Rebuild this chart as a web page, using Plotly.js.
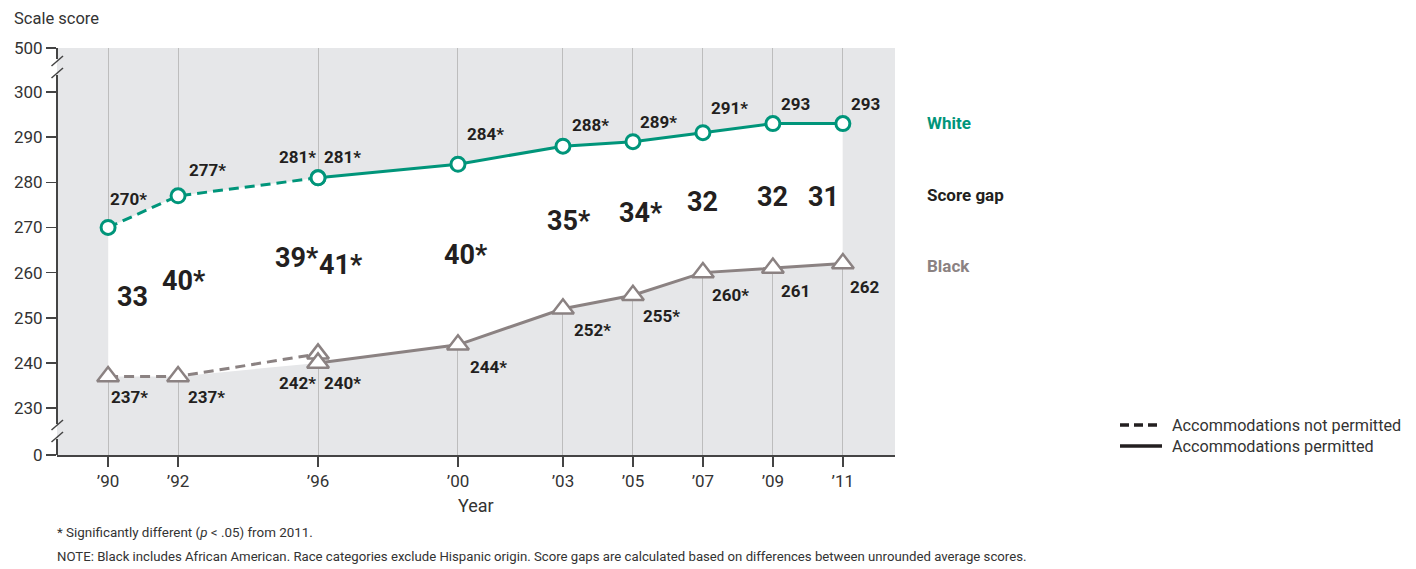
<!DOCTYPE html>
<html><head><meta charset="utf-8">
<script src="https://cdn.plot.ly/plotly-3.0.1.min.js"></script>
<style>html,body{margin:0;padding:0;background:#fff}#chart{width:1416px;height:569px}</style>
</head><body><div id="chart"></div>
<script>
// ---------- DATA ----------
const yearsNotPermitted = [1990, 1992, 1996];
const yearsPermitted = [1996, 2000, 2003, 2005, 2007, 2009, 2011];
const whiteNotPermitted = [270, 277, 281];
const whitePermitted = [281, 284, 288, 289, 291, 293, 293];
const blackNotPermitted = [237, 237, 242];
const blackPermitted = [240, 244, 252, 255, 260, 261, 262];
const whiteSigNP = [true, true, true];
const whiteSigP = [true, true, true, true, true, false, false];
const blackSigNP = [true, true, true];
const blackSigP = [true, true, true, true, true, false, false];
const gapNotPermitted = [33, 40, 39];
const gapSigNP = [false, true, true];
const gapPermitted = [41, 40, 35, 34, 32, 32, 31];
const gapSigP = [true, true, true, true, false, false, false];
const tickYears = [1990, 1992, 1996, 2000, 2003, 2005, 2007, 2009, 2011];
const tickYearLabels = ['\u201990', '\u201992', '\u201996', '\u201900', '\u201903', '\u201905', '\u201907', '\u201909', '\u201911'];
const yTickLabels = ['0', '230', '240', '250', '260', '270', '280', '290', '300', '500'];
const seriesNames = ['White', 'Score gap', 'Black'];
const legendLabels = ['Accommodations not permitted', 'Accommodations permitted'];

// ---------- STYLE ----------
const FONT = "Roboto, 'Liberation Sans', sans-serif";
const TEAL = '#00957a', GRAY = '#8b8282', INK = '#231f20';
// broken axis: scale values 0 and 500 are drawn just outside the 230-300 band
const brokenPos = {'0': 219.6, '500': 309.75};
const yTickVals = yTickLabels.map(t => brokenPos[t] !== undefined ? brokenPos[t] : Number(t));
const Y_RANGE = [219.6, 309.75];
const X_RANGE = [1988.54, 2012.49];

// label offsets (px): [dx, dy] with dy positive downward
const whiteOffNP = [[20,-28],[29,-26],[-21,-21]];
const whiteOffP = [[24,-21],[28,-30],[28,-21],[26,-20],[27,-25],[23,-20],[23,-20]];
const blackOffNP = [[21,21],[28,21],[-21,29]];
const blackOffP = [[24,20],[31,22],[30,21],[29,21],[28,22],[23,23],[22,23]];
const gapOffNP = [[24,-5],[6,-5],[-21,-8]];
const gapOffP = [[23,-5],[8,0],[6,-6],[8,-5],[0,-1],[0,1],[-19,3]];

// ---------- TRACES ----------
const traces = [];
const bandX = yearsNotPermitted.concat(yearsPermitted.slice(1))
  .concat(yearsPermitted.slice().reverse()).concat(yearsNotPermitted.slice(0, -1).reverse());
const bandY = whiteNotPermitted.concat(whitePermitted.slice(1))
  .concat(blackPermitted.slice().reverse()).concat(blackNotPermitted.slice(0, -1).reverse());
traces.push({x: bandX, y: bandY, type: 'scatter', mode: 'lines', fill: 'toself',
  fillcolor: '#ffffff', line: {width: 0}, hoverinfo: 'skip', showlegend: false});

function series(x, y, color, dash, symbol, size, lw) {
  return {x, y, type: 'scatter', mode: 'lines+markers', showlegend: false,
    line: {color, width: 3, dash},
    marker: {symbol, size, color: '#ffffff', line: {color, width: lw}}};
}
traces.push(series(yearsNotPermitted, blackNotPermitted, GRAY, '10px,6px', 'triangle-up', 19, 2.5));
traces.push(series(yearsPermitted, blackPermitted, GRAY, 'solid', 'triangle-up', 19, 2.5));
traces.push(series(yearsNotPermitted, whiteNotPermitted, TEAL, '10px,6px', 'circle', 14, 3));
traces.push(series(yearsPermitted, whitePermitted, TEAL, 'solid', 'circle', 14, 3));

// ---------- ANNOTATIONS ----------
const ann = [];
function labels(xs, ys, sig, off, size) {
  xs.forEach((x, i) => ann.push({x, y: ys[i], xref: 'x', yref: 'y', showarrow: false,
    text: ys[i] + (sig[i] ? '*' : ''), xshift: off[i][0], yshift: -off[i][1],
    xanchor: 'center', yanchor: 'middle',
    font: {family: FONT, size, color: INK, weight: 'bold'}}));
}
labels(yearsNotPermitted, whiteNotPermitted, whiteSigNP, whiteOffNP, 17);
labels(yearsPermitted, whitePermitted, whiteSigP, whiteOffP, 17);
labels(yearsNotPermitted, blackNotPermitted, blackSigNP, blackOffNP, 17);
labels(yearsPermitted, blackPermitted, blackSigP, blackOffP, 17);
function gaps(xs, top, bot, g, sig, off) {
  xs.forEach((x, i) => ann.push({x, y: (top[i] + bot[i]) / 2, xref: 'x', yref: 'y', showarrow: false,
    text: g[i] + (sig[i] ? '*' : ''), xshift: off[i][0], yshift: -off[i][1],
    xanchor: 'center', yanchor: 'middle',
    font: {family: FONT, size: 27, color: INK, weight: 'bold'}}));
}
gaps(yearsNotPermitted, whiteNotPermitted, blackNotPermitted, gapNotPermitted, gapSigNP, gapOffNP);
gaps(yearsPermitted, whitePermitted, blackPermitted, gapPermitted, gapSigP, gapOffP);

// series names on the right, aligned to 2011 values
const lastW = whitePermitted[whitePermitted.length - 1];
const lastB = blackPermitted[blackPermitted.length - 1];
const nameY = [lastW, (lastW + lastB) / 2, lastB];
const nameColors = [TEAL, INK, GRAY];
const nameShift = [1, -1, -2];
seriesNames.forEach((n, i) => ann.push({xref: 'paper', yref: 'y', x: 1.0358, y: nameY[i],
  xanchor: 'left', yanchor: 'middle', showarrow: false, yshift: nameShift[i], text: n,
  font: {family: FONT, size: 17, color: nameColors[i], weight: 'bold'}}));

// legend text
const legY = [0.0737, 0.0221];
legendLabels.forEach((t, i) => ann.push({xref: 'paper', yref: 'paper', x: 1.3277, y: legY[i],
  xanchor: 'left', yanchor: 'middle', showarrow: false, text: t,
  font: {family: FONT, size: 16.2, color: '#333333'}}));

// titles and notes
ann.push({xref: 'paper', yref: 'paper', x: -0.0537, y: 1.0713, xanchor: 'left', yanchor: 'middle',
  showarrow: false, text: 'Scale score', font: {family: FONT, size: 16.5, color: '#333333'}});
ann.push({xref: 'paper', yref: 'paper', x: 0.5, y: -0.1229, xanchor: 'center', yanchor: 'middle',
  showarrow: false, text: 'Year', font: {family: FONT, size: 18, color: '#333333'}});
ann.push({xref: 'paper', yref: 'paper', x: -0.0024, y: -0.1916, xanchor: 'left', yanchor: 'middle',
  showarrow: false, text: '* Significantly different (<i>p</i> < .05) from 2011.',
  font: {family: FONT, size: 13.4, color: '#333333'}});
ann.push({xref: 'paper', yref: 'paper', x: -0.0024, y: -0.2506, xanchor: 'left', yanchor: 'middle',
  showarrow: false,
  text: 'NOTE: Black includes African American. Race categories exclude Hispanic origin. Score gaps are calculated based on differences between unrounded average scores.',
  font: {family: FONT, size: 13.2, color: '#333333'}});

// ---------- SHAPES ----------
const shapes = [];
const AX = '#444444';
function pyToPaper(py) { return (455 - py) / 407; }
function vline(pa, pb) {
  shapes.push({type: 'line', xref: 'paper', yref: 'paper', x0: 0, x1: 0,
    y0: pyToPaper(pa), y1: pyToPaper(pb), line: {color: AX, width: 2}});
}
vline(48, 59);
vline(75, 424);
vline(439, 455);
function slash(pyCenter) {
  [-6, 6].forEach(o => {
    const c = pyCenter + o;
    shapes.push({type: 'line', xref: 'paper', yref: 'paper',
      x0: -5.5 / 838, x1: 6 / 838, y0: pyToPaper(c + 5), y1: pyToPaper(c - 5),
      line: {color: AX, width: 1.5}});
  });
}
slash(67);
slash(431);
// legend samples
shapes.push({type: 'line', xref: 'paper', yref: 'paper', x0: (1120 - 57) / 838, x1: (1162 - 57) / 838,
  y0: pyToPaper(425), y1: pyToPaper(425), line: {color: INK, width: 3.5, dash: '9px,5px'}});
shapes.push({type: 'line', xref: 'paper', yref: 'paper', x0: (1120 - 57) / 838, x1: (1162 - 57) / 838,
  y0: pyToPaper(446), y1: pyToPaper(446), line: {color: INK, width: 3.5}});

const layout = {
  width: 1416, height: 569,
  margin: {l: 57, r: 521, t: 48, b: 114, pad: 0},
  paper_bgcolor: '#ffffff', plot_bgcolor: '#e6e7e9',
  showlegend: false,
  font: {family: FONT, color: '#333333'},
  xaxis: {range: X_RANGE, tickvals: tickYears, ticktext: tickYearLabels, showgrid: true,
    gridcolor: '#bdbdbd', gridwidth: 1, zeroline: false, showline: true, linecolor: AX, linewidth: 2,
    ticks: 'outside', ticklen: 10, tickcolor: AX, tickwidth: 1.5,
    tickfont: {family: FONT, size: 17, color: '#333333'}, fixedrange: true},
  yaxis: {range: Y_RANGE, tickvals: yTickVals, ticktext: yTickLabels, showgrid: false,
    zeroline: false, showline: false, ticks: 'outside', ticklen: 10, tickcolor: AX, tickwidth: 1.5,
    tickfont: {family: FONT, size: 17, color: '#333333'}, fixedrange: true},
  annotations: ann, shapes: shapes
};
Plotly.newPlot('chart', traces, layout, {displayModeBar: false, staticPlot: true});
</script></body></html>
